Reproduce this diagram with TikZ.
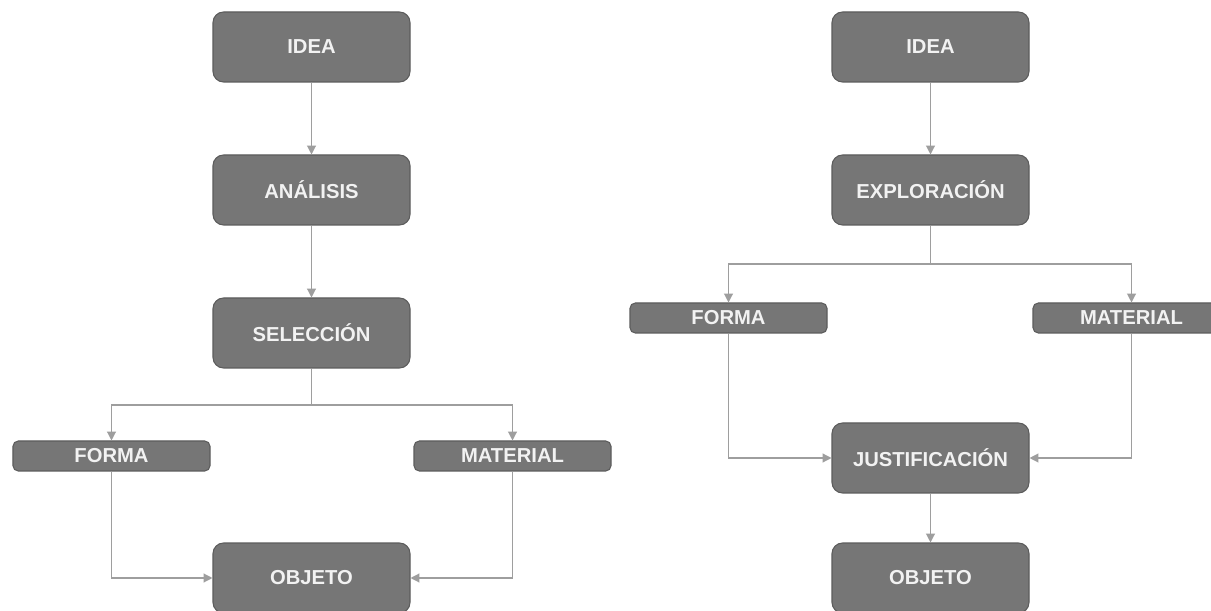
\documentclass[tikz,border=0pt]{standalone}
\usepackage{fontspec}
\setmainfont{Liberation Sans}
\usetikzlibrary{arrows.meta}
\definecolor{boxgray}{HTML}{767676}
\definecolor{boxline}{HTML}{5C5C5C}
\definecolor{boxtext}{HTML}{F2F2F2}
\definecolor{linegray}{HTML}{9E9E9E}
\begin{document}
\begin{tikzpicture}[-{Triangle[length=5pt,width=5pt]},draw=linegray,line width=0.7pt]
				\tikzstyle{box} = [rectangle,rounded corners=6pt,draw=boxline,fill=boxgray,line width=0.6pt,minimum width=3.94cm,minimum height=1.4cm,text=boxtext,font=\fontsize{11.5}{14}\selectfont\bfseries]
				\tikzstyle{bar} = [box,rounded corners=3pt,minimum height=0.6cm]
				\useasboundingbox (0,0) rectangle (24.22,-12.22);
				\fill[white] (0,0) rectangle (24.22,-12.22);
				
				% left diagram
				\node[box] (idea1) at (6.23,-0.94) {IDEA};
				\node[box] (anal) at (6.23,-3.8) {ANÁLISIS};
				\node[box] (sel) at (6.23,-6.66) {SELECCIÓN};
				\node[bar] (forma1) at (2.23,-9.12) {FORMA};
				\node[bar] (mat1) at (10.25,-9.12) {MATERIAL};
				\node[box] (obj1) at (6.23,-11.56) {OBJETO};
				\coordinate (split1) at (6.23,-8.1);
				
				\path (idea1) edge (anal);
				\path (anal) edge (sel);
				\path (sel) edge[-] (split1);
				\draw[linegray] (split1) -| (forma1);
				\draw[linegray] (split1) -| (mat1);
				\draw[linegray] (forma1) |- (obj1);
				\draw[linegray] (mat1) |- (obj1);
				
				% right diagram
				\node[box] (idea2) at (18.61,-0.94) {IDEA};
				\node[box] (expl) at (18.61,-3.8) {EXPLORACIÓN};
				\node[bar] (forma2) at (14.57,-6.36) {FORMA};
				\node[bar] (mat2) at (22.63,-6.36) {MATERIAL};
				\node[box] (just) at (18.61,-9.16) {JUSTIFICACIÓN};
				\node[box] (obj2) at (18.61,-11.56) {OBJETO};
				\coordinate (split2) at (18.61,-5.28);
				
				\path (idea2) edge (expl);
				\path (expl) edge[-] (split2);
				\draw[linegray] (split2) -| (forma2);
				\draw[linegray] (split2) -| (mat2);
				\draw[linegray] (forma2) |- (just);
				\draw[linegray] (mat2) |- (just);
				\path (just) edge (obj2);
			\end{tikzpicture}
\end{document}
